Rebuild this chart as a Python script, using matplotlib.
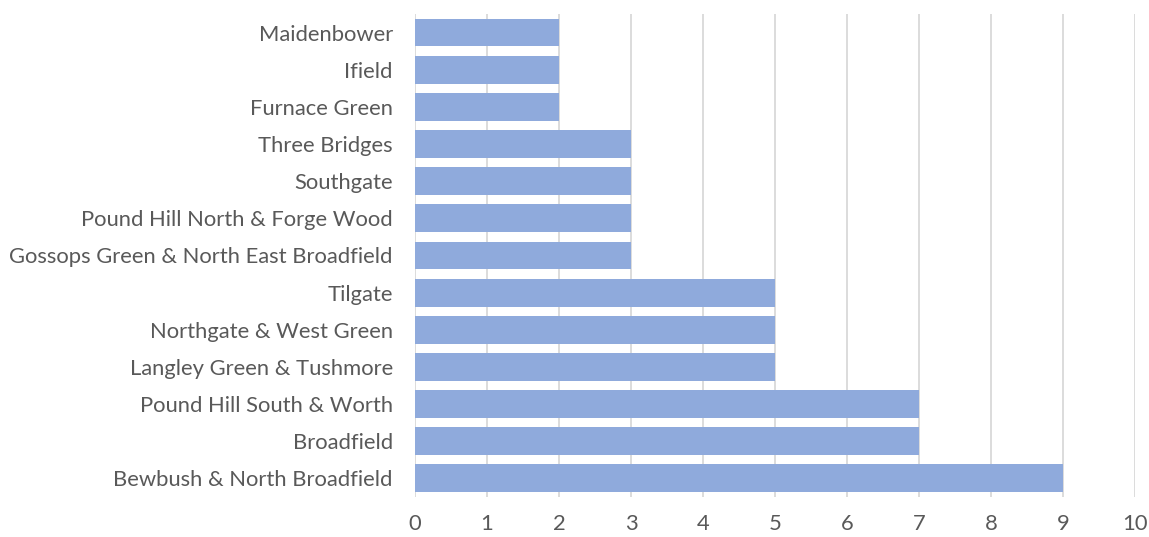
import matplotlib
matplotlib.use("Agg")
import matplotlib.pyplot as plt

wards = ["Maidenbower", "Ifield", "Furnace Green", "Three Bridges", "Southgate",
         "Pound Hill North & Forge Wood", "Gossops Green & North East Broadfield",
         "Tilgate", "Northgate & West Green", "Langley Green & Tushmore",
         "Pound Hill South & Worth", "Broadfield", "Bewbush & North Broadfield"]
counts = [2, 2, 2, 3, 3, 3, 3, 5, 5, 5, 7, 7, 9]
xticks = [0, 1, 2, 3, 4, 5, 6, 7, 8, 9, 10]

plt.rcParams['font.family'] = ['Lato', 'DejaVu Sans']

fig = plt.figure(figsize=(11.49, 5.37), dpi=100)
ax = fig.add_axes([0.3612, 0.0745, 0.6266, 0.8995])

ypos = list(range(len(wards)))
ax.barh(ypos, counts, height=0.75, color="#8FAADC", zorder=3)
ax.set_yticks(ypos)
ax.set_yticklabels(wards)
ax.set_ylim(len(wards) - 0.5, -0.5)
ax.set_xlim(0, 10)
ax.set_xticks(xticks)
ax.grid(axis="x", color="#D9D9D9", linewidth=1.3, zorder=0)
for s in ax.spines.values():
    s.set_visible(False)
ax.tick_params(axis="both", length=0, labelsize=15.8, colors="#595959")
ax.tick_params(axis="y", pad=16)
ax.tick_params(axis="x", pad=12)

fig.savefig("out.png", dpi=100)
